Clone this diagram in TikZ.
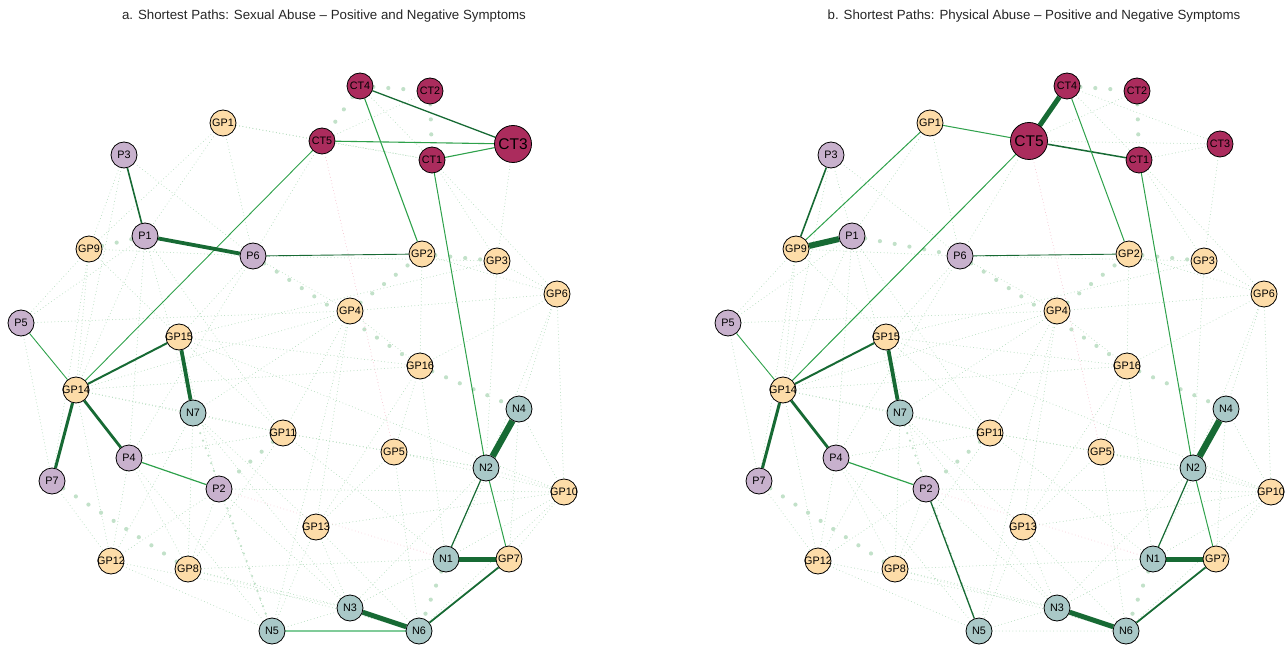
\documentclass[tikz,border=0pt]{standalone}
\usepackage{fontspec}
\setmainfont{Liberation Sans}
\definecolor{ctc}{HTML}{AB2C5D}
\definecolor{gpc}{HTML}{FDDCA8}
\definecolor{pc}{HTML}{C8B1CD}
\definecolor{nc}{HTML}{A9C8C7}
\definecolor{dkg}{HTML}{176A34}
\definecolor{mdg}{HTML}{2EA14B}
\definecolor{ltg}{HTML}{80CB99}
\definecolor{dotg}{HTML}{B6DDBF}
\definecolor{bdot}{HTML}{C2E1C9}
\definecolor{pinkc}{HTML}{F2B8C6}
\pgfdeclarelayer{bg}
\pgfsetlayers{bg,main}
\newcommand\zl[1]{\makebox[0pt]{#1}}
\tikzset{
  nd/.style={circle, draw=black, line width=0.8pt, minimum size=26pt, inner sep=0pt, font=\fontsize{10.8}{10.8}\selectfont},
  ctn/.style={nd, fill=ctc},
  ctbig/.style={nd, fill=ctc, minimum size=37pt, font=\fontsize{15.5}{15.5}\selectfont},
  gpn/.style={nd, fill=gpc},
  pn/.style={nd, fill=pc},
  nn/.style={nd, fill=nc},
  dk/.style={draw=dkg, line width=#1},
  md/.style={draw=mdg, line width=#1},
  lt/.style={draw=ltg, line width=#1},
  dotE/.style={draw=dotg, line width=1pt, dash pattern=on 0pt off 3.4pt, line cap=round},
  bigdot/.style={draw=bdot, line width=4.2pt, dash pattern=on 0pt off 15pt, line cap=round},
  meddot/.style={draw=bdot, line width=2.5pt, dash pattern=on 0pt off 8pt, line cap=round},
  pinkE/.style={draw=pinkc, line width=0.9pt, dash pattern=on 0pt off 3.4pt, line cap=round},
  ttl/.style={font=\fontsize{13.3}{13.3}\selectfont, text=black!85}
}
\newcommand\mkpanel[4]{%
\begin{scope}[xshift=#2pt]
\node[ctn] (#1CT4) at (360,86) {\zl{CT4}};
\node[ctn] (#1CT2) at (430,91) {\zl{CT2}};
\node[#3] (#1CT3) at (513,144) {\zl{CT3}};
\node[#4] (#1CT5) at (322,141) {\zl{CT5}};
\node[ctn] (#1CT1) at (432,160) {\zl{CT1}};
\node[gpn] (#1GP1) at (223,123) {\zl{GP1}};
\node[pn] (#1P3) at (124,155) {\zl{P3}};
\node[pn] (#1P1) at (145,236) {\zl{P1}};
\node[gpn] (#1GP9) at (89,249) {\zl{GP9}};
\node[pn] (#1P6) at (253,256) {\zl{P6}};
\node[gpn] (#1GP2) at (422,254) {\zl{GP2}};
\node[gpn] (#1GP3) at (497,261) {\zl{GP3}};
\node[gpn] (#1GP6) at (557,294) {\zl{GP6}};
\node[pn] (#1P5) at (21,323) {\zl{P5}};
\node[gpn] (#1GP4) at (350,311) {\zl{GP4}};
\node[gpn] (#1GP15) at (179,337) {\zl{GP15}};
\node[gpn] (#1GP14) at (76,390) {\zl{GP14}};
\node[gpn] (#1GP16) at (420,366) {\zl{GP16}};
\node[nn] (#1N7) at (193,413) {\zl{N7}};
\node[nn] (#1N4) at (519,409) {\zl{N4}};
\node[gpn] (#1GP11) at (283,433) {\zl{GP11}};
\node[gpn] (#1GP5) at (394,452) {\zl{GP5}};
\node[pn] (#1P4) at (129,458) {\zl{P4}};
\node[nn] (#1N2) at (486,468) {\zl{N2}};
\node[pn] (#1P7) at (52,481) {\zl{P7}};
\node[pn] (#1P2) at (219,489) {\zl{P2}};
\node[gpn] (#1GP10) at (564,492) {\zl{GP10}};
\node[gpn] (#1GP13) at (316,527) {\zl{GP13}};
\node[nn] (#1N1) at (446,559) {\zl{N1}};
\node[gpn] (#1GP7) at (509,559) {\zl{GP7}};
\node[gpn] (#1GP12) at (111,561) {\zl{GP12}};
\node[gpn] (#1GP8) at (188,569) {\zl{GP8}};
\node[nn] (#1N3) at (350,608) {\zl{N3}};
\node[nn] (#1N5) at (272,631) {\zl{N5}};
\node[nn] (#1N6) at (419,631) {\zl{N6}};
\end{scope}}
\begin{document}
\begin{tikzpicture}[x=1pt,y=-1pt]
\useasboundingbox (0,0) rectangle (1285,647);
\node[ttl] at (324,16) {a. Shortest Paths: Sexual Abuse – Positive and Negative Symptoms};
\node[ttl] at (1034,16) {b. Shortest Paths: Physical Abuse – Positive and Negative Symptoms};
\mkpanel{a}{0}{ctbig}{ctn}
\mkpanel{b}{707}{ctn}{ctbig}
\begin{pgfonlayer}{bg}
\foreach \p in {a,b}{
  \foreach \u/\v in {GP1/P6, GP1/CT1, GP1/P1, P3/P6, P3/GP14,
    CT4/CT1, CT2/CT5, CT3/GP3, CT1/GP6, CT5/P6, CT1/GP3,
    GP9/P5, GP9/GP14, GP9/P7, GP9/GP15, GP9/P6,
    P1/GP14, P1/P4, P1/N7, P1/GP11,
    P6/GP4, P6/GP15, P6/P4, P6/GP3,
    GP2/GP6, GP2/GP16, GP3/GP6, GP3/N2,
    GP6/N4, GP6/GP10, GP6/GP16, GP6/N2, GP6/GP4,
    P5/P7, P5/GP4, P5/P1,
    GP4/GP14, GP4/GP11, GP4/GP16, GP4/N5, GP4/GP13,
    GP15/GP16, GP15/GP11, GP15/GP10, GP15/P2, GP15/GP3,
    GP14/N7, GP14/GP16, GP14/GP12, GP14/GP11,
    GP16/GP13, GP16/N1, GP16/GP5,
    N7/GP11, N7/GP12, N7/GP13, N7/N3, N7/GP8, N7/GP4,
    GP11/GP8, GP11/N1, GP11/GP5, GP11/N2,
    GP5/GP10, GP5/N6, GP5/N2, GP5/GP13,
    P4/GP12, P4/GP8, P4/GP11, P4/N5, P7/GP12,
    P2/GP8, P2/GP10, P2/N3, P2/GP12,
    GP12/N3, GP12/N5, GP8/N3, GP8/N1, GP8/N6,
    GP13/N6, GP13/N3, GP13/GP10, GP13/N5,
    N1/N3, N1/GP10, N5/N3, N4/GP10, N4/GP7, N2/GP10, N2/N3,
    GP7/GP10, N4/N1, GP10/N6}
    {\draw[dotE] (\p\u) -- (\p\v);}
  \foreach \u/\v in {CT4/CT2, CT2/CT1, P6/GP16, GP16/N4, GP4/GP2, GP2/GP3, P7/GP8, GP11/P2, N1/N6}
    {\draw[bigdot] (\p\u) -- (\p\v);}
  \draw[meddot] (\p N7) -- (\p N5);
  \draw[pinkE] (\p CT5) -- (\p GP5);
  \draw[pinkE] (\p P2) -- (\p N1);
}
% panel a only dotted
\foreach \u/\v in {P2/N5, GP1/GP9, P3/GP9, CT5/CT1, GP1/CT5}
  {\draw[dotE] (a\u) -- (a\v);}
\draw[bigdot] (aCT4) -- (aCT5);
\draw[bigdot] (aGP9) -- (aP1);
% panel b only dotted
\foreach \u/\v in {N5/N6, CT4/CT3, CT5/CT3, CT1/CT3, P3/P1}
  {\draw[dotE] (b\u) -- (b\v);}
\draw[bigdot] (bP1) -- (bP6);
% ---- panel a solid edges
\draw[dk=1.3pt] (aCT4) -- (aCT3);
\draw[md=1.1pt] (aCT5) -- (aCT3);
\draw[md=1.1pt] (aCT1) -- (aCT3);
\draw[md=1.1pt] (aCT4) -- (aGP2);
\draw[md=1pt] (aCT1) -- (aN2);
\draw[md=0.9pt] (aCT5) -- (aGP14);
\draw[dk=1.6pt] (aP3) -- (aP1);
\draw[dk=3.8pt] (aP1) -- (aP6);
\draw[dk=0.9pt] (aP6) -- (aGP2);
\draw[md=0.9pt] (aP5) -- (aGP14);
\draw[dk=2pt] (aGP14) -- (aGP15);
\draw[dk=3.8pt] (aGP15) -- (aN7);
\draw[dk=3pt] (aGP14) -- (aP7);
\draw[dk=2.8pt] (aGP14) -- (aP4);
\draw[md=1.2pt] (aP4) -- (aP2);
\draw[dk=6.5pt] (aN4) -- (aN2);
\draw[dk=1.2pt] (aN2) -- (aN1);
\draw[md=1pt] (aN2) -- (aGP7);
\draw[dk=5pt] (aN1) -- (aGP7);
\draw[dk=1.8pt] (aGP7) -- (aN6);
\draw[dk=5pt] (aN3) -- (aN6);
\draw[lt=1.3pt] (aN5) -- (aN6);
% ---- panel b solid edges
\draw[dk=5pt] (bCT4) -- (bCT5);
\draw[dk=1.5pt] (bCT5) -- (bCT1);
\draw[md=1pt] (bGP1) -- (bCT5);
\draw[md=1pt] (bCT5) -- (bGP14);
\draw[md=1pt] (bGP1) -- (bGP9);
\draw[dk=1.6pt] (bP3) -- (bGP9);
\draw[dk=6pt] (bGP9) -- (bP1);
\draw[dk=0.9pt] (bP6) -- (bGP2);
\draw[md=1pt] (bCT4) -- (bGP2);
\draw[md=1pt] (bCT1) -- (bN2);
\draw[md=0.9pt] (bP5) -- (bGP14);
\draw[dk=2pt] (bGP14) -- (bGP15);
\draw[dk=3.8pt] (bGP15) -- (bN7);
\draw[dk=3pt] (bGP14) -- (bP7);
\draw[dk=2.8pt] (bGP14) -- (bP4);
\draw[md=1.2pt] (bP4) -- (bP2);
\draw[dk=1.3pt] (bP2) -- (bN5);
\draw[dk=6.5pt] (bN4) -- (bN2);
\draw[dk=1.2pt] (bN2) -- (bN1);
\draw[md=1pt] (bN2) -- (bGP7);
\draw[dk=5pt] (bN1) -- (bGP7);
\draw[dk=1.8pt] (bGP7) -- (bN6);
\draw[dk=5pt] (bN3) -- (bN6);
\end{pgfonlayer}
\end{tikzpicture}
\end{document}
